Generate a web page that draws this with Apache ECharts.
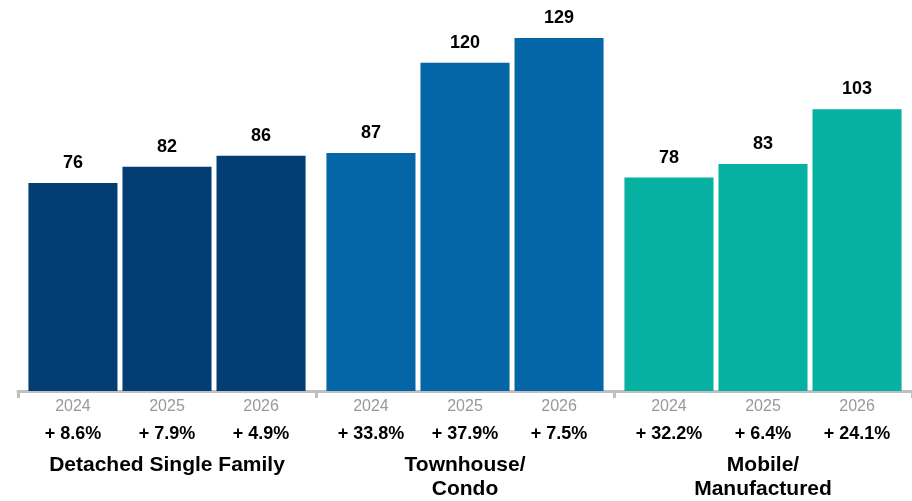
<!DOCTYPE html>
<html><head><meta charset="utf-8">
<script src="https://cdn.jsdelivr.net/npm/echarts@6/dist/echarts.min.js"></script>
<style>html,body{margin:0;padding:0;background:#fff}#c{width:912px;height:501px}</style>
</head><body><div id="c"></div>
<script>
const groups = ['Detached Single Family', 'Townhouse/\nCondo', 'Mobile/\nManufactured'];
const years = ['2024', '2025', '2026'];
// values per year, one entry per group
const v2024 = [76, 87, 78];
const v2025 = [82, 120, 83];
const v2026 = [86, 129, 103];
const p2024 = ['+ 8.6%', '+ 33.8%', '+ 32.2%'];
const p2025 = ['+ 7.9%', '+ 37.9%', '+ 6.4%'];
const p2026 = ['+ 4.9%', '+ 7.5%', '+ 24.1%'];
const groupColors = ['#023e74', '#0466a6', '#06b1a1'];

const vals = [v2024, v2025, v2026];
const pcts = [p2024, p2025, p2026];
const FONT = '"Liberation Sans", Arial, Helvetica, sans-serif';

const series = [];
years.forEach((y, i) => {
  series.push({
    type: 'bar', xAxisIndex: 0, name: y,
    barGap: '5.6%', barCategoryGap: '7%',
    data: vals[i].map((v, g) => ({ value: v, itemStyle: { color: groupColors[g] } })),
    label: { show: true, position: 'top', distance: 11, color: '#000', fontFamily: FONT, fontWeight: 'bold', fontSize: 18 },
    animation: false
  });
});
years.forEach((y, i) => {
  series.push({
    type: 'bar', xAxisIndex: 1, name: y + 'lbl',
    barGap: '5.6%', barCategoryGap: '7%',
    data: vals[i].map((v, g) => ({ value: v, itemStyle: { color: 'rgba(0,0,0,0)' } })),
    silent: true,
    label: {
      show: true, position: 'bottom', distance: 4,
      formatter: p => '{y|' + y + '}\n{p|' + pcts[i][p.dataIndex] + '}',
      rich: {
        y: { fontFamily: FONT, fontSize: 16, color: '#999999', lineHeight: 24, align: 'center' },
        p: { fontFamily: FONT, fontSize: 18, fontWeight: 'bold', color: '#000', lineHeight: 30, align: 'center' }
      }
    },
    animation: false
  });
});

const chart = echarts.init(document.getElementById('c'));
chart.setOption({
  animation: false,
  grid: { left: 18, right: 0, top: 8, bottom: 110, containLabel: false },
  xAxis: [
    {
      type: 'category', data: groups,
      axisLine: { lineStyle: { color: '#c0c0c0', width: 3 } },
      axisTick: { show: true, length: 7, lineStyle: { color: '#c0c0c0', width: 3 } },
      axisLabel: { margin: 62, fontFamily: FONT, fontSize: 21, fontWeight: 'bold', color: '#000', lineHeight: 24, interval: 0 }
    },
    { type: 'category', data: groups, show: false }
  ],
  yAxis: { type: 'value', min: 0, max: 140, show: false, splitLine: { show: false } },
  series: series
});
</script></body></html>
